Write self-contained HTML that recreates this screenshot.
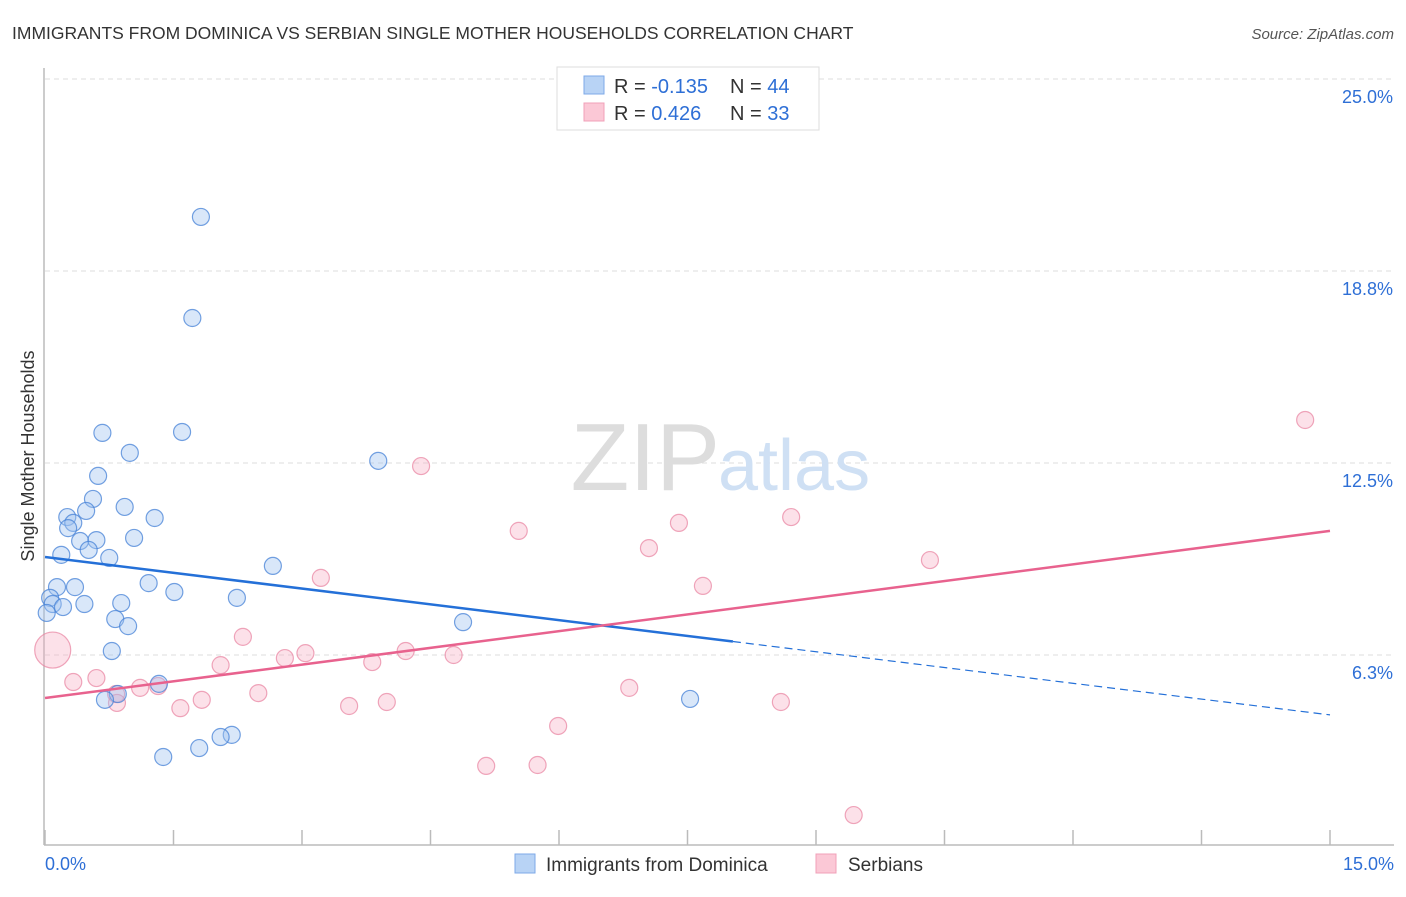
<!DOCTYPE html>
<html><head><meta charset="utf-8"><style>
body{margin:0;background:#fff;font-family:"Liberation Sans",sans-serif}
svg text{font-family:"Liberation Sans",sans-serif}
</style></head><body>
<svg id="chart" width="1406" height="892">
<text x="12" y="39" font-size="17.5" fill="#333">IMMIGRANTS FROM DOMINICA VS SERBIAN SINGLE MOTHER HOUSEHOLDS CORRELATION CHART</text>
<text x="1394" y="39" font-size="15" fill="#555" font-style="italic" text-anchor="end">Source: ZipAtlas.com</text>
<text x="0" y="0" transform="translate(34,456) rotate(-90)" font-size="18" fill="#333" text-anchor="middle">Single Mother Households</text>
<g id="grid"></g>
<text x="720" y="490" font-size="96" fill="#ddd" font-family="Liberation Serif" text-anchor="end">ZIP</text>
<text x="718" y="490" font-size="72" fill="#cfe0f4">atlas</text>
<g id="axes"></g>
<g id="marks"></g>
<g>
<rect x="557" y="67" width="262" height="63" fill="#fff" stroke="#ddd"/>
<rect x="584" y="76" width="20" height="18" fill="#b8d3f5" stroke="#7eaae8"/>
<rect x="584" y="103" width="20" height="18" fill="#fbc8d6" stroke="#f0a0b8"/>
<text x="614" y="93" font-size="20" fill="#333">R = <tspan fill="#2e6fd6">-0.135</tspan></text>
<text x="730" y="93" font-size="20" fill="#333">N = <tspan fill="#2e6fd6">44</tspan></text>
<text x="614" y="120" font-size="20" fill="#333">R = <tspan fill="#2e6fd6"> 0.426</tspan></text>
<text x="730" y="120" font-size="20" fill="#333">N = <tspan fill="#2e6fd6"> 33</tspan></text>
</g>
<g>
<rect x="515" y="854" width="20" height="19" fill="#b8d3f5" stroke="#7eaae8"/>
<text x="546" y="871" font-size="19" fill="#333">Immigrants from Dominica</text>
<rect x="816" y="854" width="20" height="19" fill="#fbc8d6" stroke="#f0a0b8"/>
<text x="848" y="871" font-size="19" fill="#333">Serbians</text>
</g>
</svg>
<script>
const yTicks=[25,18.75,12.5,6.25];
const yTickLabels=["25.0%","18.8%","12.5%","6.3%"];
const xTickCount=10;
const blueX=[1.82,1.72,0.67,1.60,0.99,3.89,0.62,0.56,0.93,0.26,0.48,0.33,0.27,1.28,0.41,0.60,1.04,0.51,0.19,0.75,2.66,0.14,0.35,1.21,1.51,2.24,0.06,0.09,0.46,0.89,0.21,0.02,0.82,0.97,4.88,0.78,1.33,0.85,0.70,7.53,2.18,2.05,1.80,1.38];
const blueY=[20.51,17.22,13.48,13.51,12.83,12.57,12.08,11.33,11.07,10.74,10.94,10.55,10.38,10.71,9.96,9.99,10.06,9.67,9.51,9.41,9.15,8.46,8.46,8.59,8.30,8.11,8.11,7.91,7.91,7.94,7.81,7.62,7.42,7.19,7.32,6.38,5.31,4.98,4.79,4.82,3.65,3.58,3.22,2.93];
const pinkX=[0.09,0.33,0.60,0.83,0.84,1.11,1.32,1.58,1.83,2.05,2.31,2.49,2.80,3.04,3.22,3.55,3.82,3.99,4.21,4.39,4.77,5.15,5.53,5.75,5.99,6.82,7.05,7.40,7.68,8.59,8.71,9.44,10.33,14.71];
const pinkY=[6.41,5.37,5.50,4.98,4.69,5.18,5.24,4.52,4.79,5.92,6.84,5.01,6.15,6.31,8.76,4.59,6.02,4.72,6.38,12.40,6.25,2.64,10.29,2.67,3.94,5.18,9.73,10.55,8.50,4.72,10.74,1.04,9.34,13.90];
const blueTrend=[9.44,4.30]; // values at x=0 and x=15
const blueSolidEnd=8.03;
const pinkTrend=[4.85,10.29];

const X0=45,X1=1330,Y25=79,YPX=30.72;
const xs=v=>X0+(X1-X0)*v/15;
const ys=v=>Y25+(25-v)*YPX;
const NS="http://www.w3.org/2000/svg";
function mk(tag,attrs,parent){const e=document.createElementNS(NS,tag);for(const k in attrs)e.setAttribute(k,attrs[k]);parent.appendChild(e);return e;}
const grid=document.getElementById('grid'),axes=document.getElementById('axes'),marks=document.getElementById('marks');
yTicks.forEach((t,i)=>{
 const l=mk('line',{x1:45,x2:1394,y1:ys(t),y2:ys(t),stroke:'#ddd','stroke-dasharray':'5,4'},grid);
 
 
 const tx=mk('text',{x:1393,y:ys(t)+24,'font-size':18,fill:'#2e6fd6','text-anchor':'end'},axes);
 tx.textContent=yTickLabels[i];
 
 
});
mk('line',{x1:44,x2:44,y1:68,y2:845,stroke:'#bbb','stroke-width':1.5},axes);
mk('line',{x1:44,x2:1394,y1:845,y2:845,stroke:'#bbb','stroke-width':1.5},axes);
for(let i=0;i<=xTickCount;i++){const x=xs(i*15/xTickCount);mk('line',{x1:x,x2:x,y1:830,y2:845,stroke:'#bbb','stroke-width':1.5},axes);}
const xl0=mk('text',{x:45,y:870,'font-size':18,fill:'#2e6fd6'},axes);xl0.textContent='0.0%';


const xl1=mk('text',{x:1394,y:870,'font-size':18,fill:'#2e6fd6','text-anchor':'end'},axes);xl1.textContent='15.0%';



pinkX.forEach((x,i)=>{
 const c=mk('circle',{cx:xs(x),cy:ys(pinkY[i]),r:i===0?18:8.5,fill:'rgba(247,170,192,0.35)',stroke:'rgba(232,130,160,0.7)','stroke-width':1.2},marks);
 
 
});
blueX.forEach((x,i)=>{
 const c=mk('circle',{cx:xs(x),cy:ys(blueY[i]),r:8.5,fill:'rgba(160,195,240,0.4)',stroke:'rgba(70,130,215,0.75)','stroke-width':1.2},marks);
 
 
});
const bAt=v=>blueTrend[0]+(blueTrend[1]-blueTrend[0])*v/15;
const bl=mk('line',{x1:xs(0),y1:ys(bAt(0)),x2:xs(blueSolidEnd),y2:ys(bAt(blueSolidEnd)),stroke:'#2470d8','stroke-width':2.5},marks);


const bd=mk('line',{x1:xs(blueSolidEnd),y1:ys(bAt(blueSolidEnd)),x2:xs(15),y2:ys(bAt(15)),stroke:'#2470d8','stroke-width':1.2,'stroke-dasharray':'8,5'},marks);


const pl=mk('line',{x1:xs(0),y1:ys(pinkTrend[0]),x2:xs(15),y2:ys(pinkTrend[1]),stroke:'#e8628e','stroke-width':2.5},marks);


</script>
</body></html>
